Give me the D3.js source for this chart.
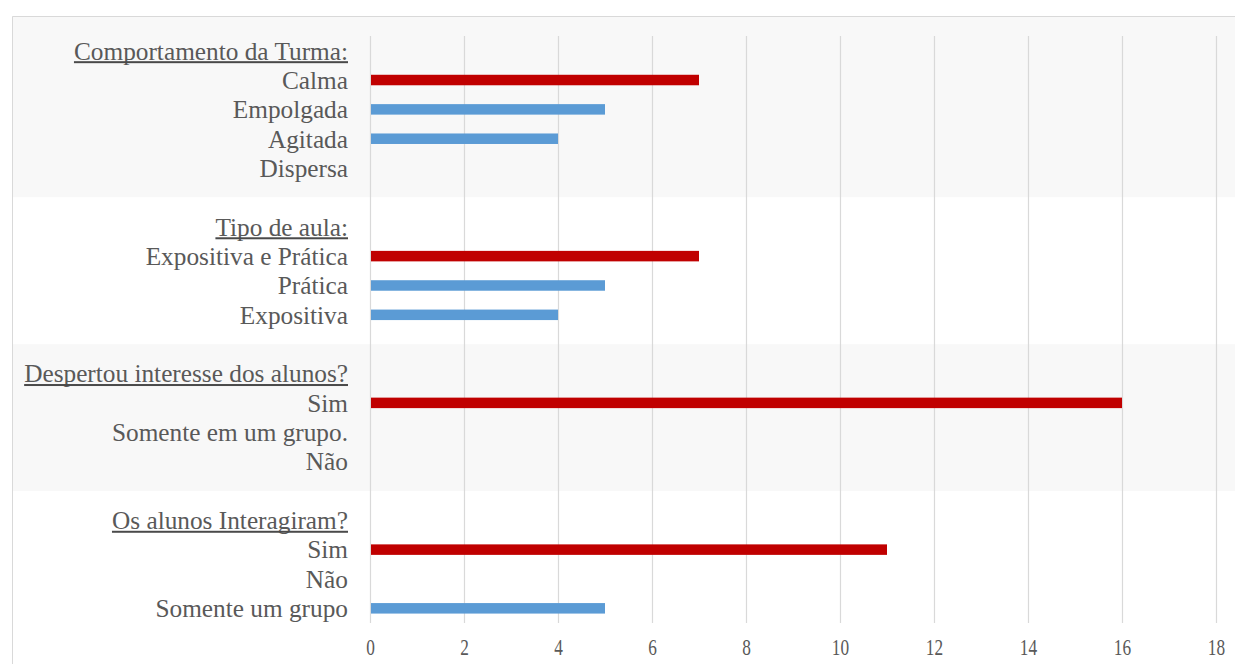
<!DOCTYPE html>
<html>
<head>
<meta charset="utf-8">
<script src="https://cdn.jsdelivr.net/npm/d3@7"></script>
<style>
  html, body { margin: 0; padding: 0; background: #fff; }
  svg { display: block; }
  text { font-family: "Liberation Serif", "Times New Roman", serif; fill: #595959; }
</style>
</head>
<body>
<div class="chart"></div>
<script>
// group headings and their answers (top to bottom)
var groups = ["Comportamento da Turma:", "Tipo de aula:", "Despertou interesse dos alunos?", "Os alunos Interagiram?"];
var categories = [
  ["Calma", "Empolgada", "Agitada", "Dispersa"],
  ["Expositiva e Prática", "Prática", "Expositiva"],
  ["Sim", "Somente em um grupo.", "Não"],
  ["Sim", "Não", "Somente um grupo"]
];
var values = [
  [7, 5, 4, 0],
  [7, 5, 4],
  [16, 0, 0],
  [11, 0, 5]
];
var xTicks = [0, 2, 4, 6, 8, 10, 12, 14, 16, 18];

var W = 1235, H = 664;
var red = "#c00000", blue = "#5b9bd5", grid = "#d9d9d9";

// build the row list: header, answers, spacer between groups
var rows = [];
groups.forEach(function(g, gi) {
  rows.push({id: "h" + gi, group: gi, type: "head", label: g});
  categories[gi].forEach(function(c, ci) {
    rows.push({id: "r" + gi + "_" + ci, group: gi, type: "item", label: c, value: values[gi][ci], first: ci === 0});
  });
  if (gi < groups.length - 1) rows.push({id: "s" + gi, group: gi, type: "space"});
});

var svg = d3.select(".chart").append("svg").attr("width", W).attr("height", H);

var x = d3.scaleLinear().domain([0, 18]).range([370, 1216]);
var y = d3.scaleBand().domain(rows.map(function(d) { return d.id; })).range([36, 623]).padding(0);
var yc = function(id) { return y(id) + y.bandwidth() / 2; };

// background bands per group (alternating grey / white)
var bounds = groups.map(function(g, gi) {
  var top = gi === 0 ? 16 : (yc("r" + (gi - 1) + "_" + (categories[gi - 1].length - 1)) + yc("h" + gi)) / 2;
  var bottom = gi === groups.length - 1 ? H : (yc("r" + gi + "_" + (categories[gi].length - 1)) + yc("h" + (gi + 1))) / 2;
  return {gi: gi, top: top, bottom: bottom};
});
svg.append("g").selectAll("rect").data(bounds).enter().append("rect")
  .attr("x", 12).attr("width", W - 12)
  .attr("y", function(d) { return d.top; })
  .attr("height", function(d) { return d.bottom - d.top; })
  .attr("fill", function(d) { return d.gi % 2 === 0 ? "#f8f8f8" : "#ffffff"; });

// chart frame (top and left edges visible)
svg.append("path")
  .attr("d", "M12.5," + H + "V16.5H" + W)
  .attr("fill", "none").attr("stroke", grid);

// vertical gridlines
svg.append("g").selectAll("line").data(xTicks).enter().append("line")
  .attr("x1", function(d) { return Math.round(x(d)) + 0.5; })
  .attr("x2", function(d) { return Math.round(x(d)) + 0.5; })
  .attr("y1", 36).attr("y2", 623)
  .attr("stroke", grid).attr("stroke-width", 1.2);

// bars
var items = rows.filter(function(d) { return d.type === "item"; });
var barH = 10.5;
svg.append("g").selectAll("rect").data(items.filter(function(d) { return d.value > 0; })).enter().append("rect")
  .attr("x", x(0) + 1)
  .attr("y", function(d) { return yc(d.id) - barH / 2; })
  .attr("width", function(d) { return x(d.value) - x(0) - 1; })
  .attr("height", barH)
  .attr("fill", function(d) { return d.first ? red : blue; });

// row labels
var labels = svg.append("g").selectAll("text").data(rows.filter(function(d) { return d.type !== "space"; })).enter().append("text")
  .attr("x", 348)
  .attr("y", function(d) { return yc(d.id); })
  .attr("dy", "0.35em")
  .attr("text-anchor", "end")
  .style("font-size", "25.3px")
  .text(function(d) { return d.label; });

// underline the group headings
labels.filter(function(d) { return d.type === "head"; }).each(function(d) {
  var len = this.getComputedTextLength();
  svg.append("rect")
    .attr("x", 348 - len).attr("width", len)
    .attr("y", yc(d.id) + 10.5).attr("height", 2)
    .attr("fill", "#4a4a4a");
});

// x axis tick labels
var xAxis = svg.append("g").attr("transform", "translate(0,638)")
  .call(d3.axisBottom(x).tickValues(xTicks).tickSize(0).tickPadding(0));
xAxis.select(".domain").remove();
xAxis.selectAll("text")
  .attr("y", 0).attr("dy", "0.71em")
  .attr("transform", "scale(0.72,1)")
  .style("font-size", "24px")
  .style("font-family", "'Liberation Serif', serif")
  .attr("fill", "#595959");
</script>
</body>
</html>
